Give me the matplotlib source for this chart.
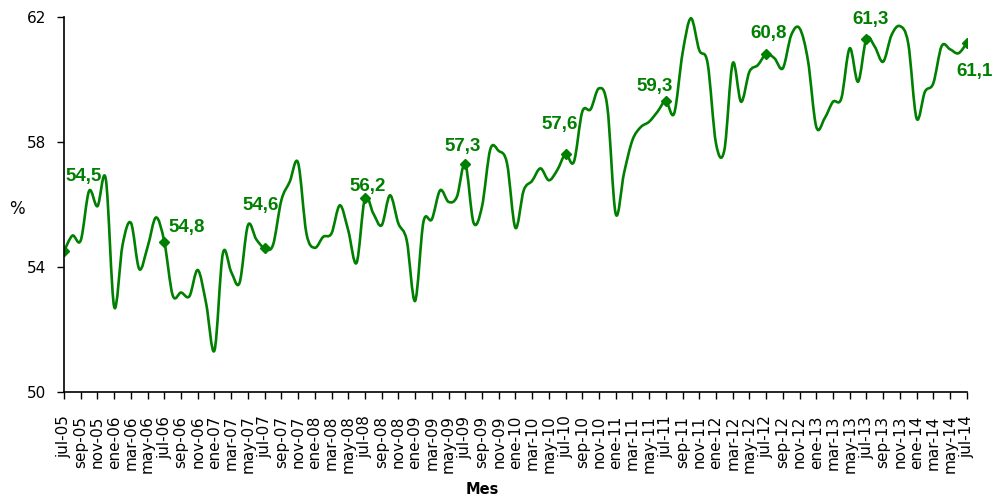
import numpy as np
import matplotlib
matplotlib.use("Agg")
import matplotlib.pyplot as plt
from matplotlib.path import Path
from matplotlib.patches import PathPatch

# monthly values, jul-05 .. jul-14
VALORES = [
    54.5, 55.0, 54.85, 56.43, 55.94, 56.8, 52.72, 54.7, 55.41, 53.93, 54.64, 55.58,
    54.8, 53.09, 53.18, 53.06, 53.9, 52.83, 51.33, 54.43, 53.84, 53.49, 55.33, 54.88,
    54.6, 54.7, 56.13, 56.72, 57.33, 55.07, 54.61, 54.96, 55.07, 55.97, 55.17, 54.13,
    56.2, 55.71, 55.33, 56.29, 55.39, 54.85, 52.91, 55.44, 55.52, 56.45, 56.08, 56.24,
    57.3, 55.41, 55.92, 57.76, 57.71, 57.31, 55.25, 56.45, 56.75, 57.15, 56.77, 57.09,
    57.6, 57.36, 58.96, 59.04, 59.71, 59.12, 55.7, 57.0, 58.05, 58.47, 58.64, 58.96,
    59.3, 58.91, 60.83, 61.95, 60.93, 60.51, 57.95, 57.73, 60.51, 59.28, 60.24, 60.45,
    60.8, 60.67, 60.35, 61.41, 61.63, 60.61, 58.48, 58.75, 59.28, 59.39, 60.99, 59.92,
    61.3, 61.04, 60.56, 61.41, 61.7, 61.15, 58.75, 59.6, 59.87, 61.06, 60.96, 60.83,
    61.15,
]
MESES = ["ene", "feb", "mar", "abr", "may", "jun",
         "jul", "ago", "sep", "oct", "nov", "dic"]
ETIQUETAS = [f"{MESES[(6 + i) % 12]}-{(5 + (6 + i) // 12):02d}" for i in range(len(VALORES))]
# labelled points (every July)
MARCADOS = [0, 12, 24, 36, 48, 60, 72, 84, 96, 108]
TEXTOS = ["54,5", "54,8", "54,6", "56,2", "57,3", "57,6", "59,3", "60,8", "61,3", "61,1"]

# label offsets in pixels (layout only)
OFFSETS = [(20, 75), (22, 14), (-4, 43), (3, 12), (-3, 17),
           (-6, 30), (-11, 15), (3, 21), (4, 19), (8, -28)]

VERDE = "#008000"

x = np.arange(len(VALORES), dtype=float)
y = np.array(VALORES)

fig = plt.figure(figsize=(9.96, 4.97), dpi=100)
ax = fig.add_axes([0.0643, 0.2113, 0.9063, 0.7551])

# --- smoothed line (Bezier through every point, Excel style) ---
verts = [(x[0], y[0])]
codes = [Path.MOVETO]
n = len(x)
for i in range(n - 1):
    p0 = np.array([x[max(i - 1, 0)], y[max(i - 1, 0)]])
    p1 = np.array([x[i], y[i]])
    p2 = np.array([x[i + 1], y[i + 1]])
    p3 = np.array([x[min(i + 2, n - 1)], y[min(i + 2, n - 1)]])
    c1 = p1 + (p2 - p0) / 6.0
    c2 = p2 - (p3 - p1) / 6.0
    verts += [tuple(c1), tuple(c2), tuple(p2)]
    codes += [Path.CURVE4] * 3
ax.add_patch(PathPatch(Path(verts, codes), fill=False, edgecolor=VERDE,
                       linewidth=1.9, capstyle="round", joinstyle="round"))

ax.plot(x[MARCADOS], y[MARCADOS], linestyle="none", marker="D",
        markersize=5.5, color=VERDE)

for idx, txt, off in zip(MARCADOS, TEXTOS, OFFSETS):
    ax.annotate(txt, (x[idx], y[idx]), xytext=off, textcoords="offset pixels",
                ha="center", va="center", color=VERDE, fontsize=13.5,
                fontweight="bold", fontfamily="Liberation Sans")

ax.set_xlim(0, len(VALORES) - 1)
ax.set_ylim(50, 62)
ax.set_yticks([50, 54, 58, 62])
ax.set_xticks(x[::2])
ax.set_xticklabels(ETIQUETAS[::2], rotation=90, fontsize=11,
                   family="DejaVu Sans")
for lab in ax.get_yticklabels():
    lab.set_fontsize(11)
ax.tick_params(axis="y", direction="out", length=5, width=1, color="black",
               pad=8)
ax.tick_params(axis="x", direction="out", length=5, width=1, color="black",
               pad=12)

for side in ["top", "right"]:
    ax.spines[side].set_visible(False)
for side in ["left", "bottom"]:
    ax.spines[side].set_linewidth(1.2)

fig.text(0.017, 0.58, "%", fontsize=12, ha="center", va="center")
fig.text(0.484, 0.016, "Mes", fontsize=10.5, fontweight="bold",
         ha="center", va="center")

fig.savefig("out.png", dpi=100)
